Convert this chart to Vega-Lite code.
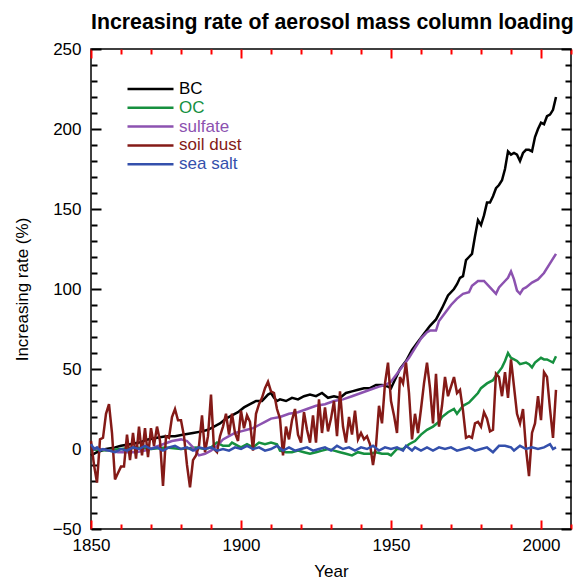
{
"$schema": "https://vega.github.io/schema/vega-lite/v6.json",
"width": 480, "height": 480,
"autosize": {"type": "none"},
"padding": {"left": 91, "top": 49, "right": 11, "bottom": 51},
"title": {"text": "Increasing rate of aerosol mass column loading", "anchor": "start", "frame": "group", "fontSize": 21.3, "fontWeight": "bold", "font": "Liberation Sans", "offset": 7, "color": "black"},
"config": {"view": {"stroke": "black", "strokeWidth": 1.5}, "font": "Liberation Sans"},
"data": {"values": [
{"series":"BC","year":1850,"value":-4},{"series":"BC","year":1852,"value":-2},{"series":"BC","year":1855,"value":0},{"series":"BC","year":1858,"value":1},{"series":"BC","year":1860,"value":2},{"series":"BC","year":1863,"value":3},{"series":"BC","year":1866,"value":4},{"series":"BC","year":1869,"value":6},{"series":"BC","year":1872,"value":7},{"series":"BC","year":1875,"value":8},{"series":"BC","year":1878,"value":8},{"series":"BC","year":1881,"value":9},{"series":"BC","year":1884,"value":10},{"series":"BC","year":1887,"value":11},{"series":"BC","year":1889,"value":12},{"series":"BC","year":1891,"value":14},{"series":"BC","year":1893,"value":16},{"series":"BC","year":1895,"value":19},{"series":"BC","year":1897,"value":21},{"series":"BC","year":1899,"value":23},{"series":"BC","year":1901,"value":26},{"series":"BC","year":1903,"value":28},{"series":"BC","year":1905,"value":30},{"series":"BC","year":1907,"value":30},{"series":"BC","year":1909,"value":34},{"series":"BC","year":1910,"value":35},{"series":"BC","year":1911,"value":32},{"series":"BC","year":1912,"value":30},{"series":"BC","year":1913,"value":31},{"series":"BC","year":1915,"value":30},{"series":"BC","year":1917,"value":32},{"series":"BC","year":1919,"value":31},{"series":"BC","year":1921,"value":33},{"series":"BC","year":1923,"value":34},{"series":"BC","year":1925,"value":33},{"series":"BC","year":1927,"value":35},{"series":"BC","year":1929,"value":32},{"series":"BC","year":1931,"value":33},{"series":"BC","year":1933,"value":32},{"series":"BC","year":1935,"value":35},{"series":"BC","year":1937,"value":36},{"series":"BC","year":1939,"value":37},{"series":"BC","year":1941,"value":38},{"series":"BC","year":1943,"value":38},{"series":"BC","year":1945,"value":40},{"series":"BC","year":1947,"value":40},{"series":"BC","year":1949,"value":39},{"series":"BC","year":1950,"value":38},{"series":"BC","year":1951,"value":42},{"series":"BC","year":1953,"value":50},{"series":"BC","year":1955,"value":55},{"series":"BC","year":1957,"value":62},{"series":"BC","year":1959,"value":67},{"series":"BC","year":1961,"value":72},{"series":"BC","year":1963,"value":77},{"series":"BC","year":1965,"value":81},{"series":"BC","year":1967,"value":88},{"series":"BC","year":1969,"value":96},{"series":"BC","year":1971,"value":100},{"series":"BC","year":1972,"value":103},{"series":"BC","year":1973,"value":107},{"series":"BC","year":1974,"value":108},{"series":"BC","year":1975,"value":118},{"series":"BC","year":1976,"value":120},{"series":"BC","year":1977,"value":122},{"series":"BC","year":1978,"value":133},{"series":"BC","year":1979,"value":143},{"series":"BC","year":1980,"value":140},{"series":"BC","year":1981,"value":146},{"series":"BC","year":1982,"value":154},{"series":"BC","year":1983,"value":154},{"series":"BC","year":1984,"value":158},{"series":"BC","year":1985,"value":163},{"series":"BC","year":1986,"value":165},{"series":"BC","year":1987,"value":168},{"series":"BC","year":1988,"value":175},{"series":"BC","year":1989,"value":186},{"series":"BC","year":1990,"value":184},{"series":"BC","year":1991,"value":185},{"series":"BC","year":1992,"value":184},{"series":"BC","year":1993,"value":180},{"series":"BC","year":1994,"value":185},{"series":"BC","year":1995,"value":187},{"series":"BC","year":1996,"value":187},{"series":"BC","year":1997,"value":186},{"series":"BC","year":1998,"value":195},{"series":"BC","year":1999,"value":200},{"series":"BC","year":2000,"value":204},{"series":"BC","year":2001,"value":203},{"series":"BC","year":2002,"value":208},{"series":"BC","year":2003,"value":209},{"series":"BC","year":2004,"value":212},{"series":"BC","year":2005,"value":220},
{"series":"OC","year":1850,"value":0},{"series":"OC","year":1855,"value":-1},{"series":"OC","year":1860,"value":0},{"series":"OC","year":1865,"value":1},{"series":"OC","year":1870,"value":0},{"series":"OC","year":1875,"value":1},{"series":"OC","year":1880,"value":0},{"series":"OC","year":1885,"value":1},{"series":"OC","year":1888,"value":0},{"series":"OC","year":1890,"value":1},{"series":"OC","year":1892,"value":4},{"series":"OC","year":1894,"value":2},{"series":"OC","year":1896,"value":2},{"series":"OC","year":1897,"value":4},{"series":"OC","year":1899,"value":2},{"series":"OC","year":1900,"value":1},{"series":"OC","year":1902,"value":3},{"series":"OC","year":1904,"value":1},{"series":"OC","year":1906,"value":4},{"series":"OC","year":1908,"value":3},{"series":"OC","year":1910,"value":4},{"series":"OC","year":1912,"value":3},{"series":"OC","year":1913,"value":-1},{"series":"OC","year":1915,"value":-2},{"series":"OC","year":1917,"value":-2},{"series":"OC","year":1919,"value":-1},{"series":"OC","year":1921,"value":-2},{"series":"OC","year":1923,"value":-3},{"series":"OC","year":1925,"value":-2},{"series":"OC","year":1927,"value":-1},{"series":"OC","year":1929,"value":0},{"series":"OC","year":1931,"value":-1},{"series":"OC","year":1933,"value":-2},{"series":"OC","year":1935,"value":-3},{"series":"OC","year":1937,"value":-4},{"series":"OC","year":1939,"value":-2},{"series":"OC","year":1941,"value":-3},{"series":"OC","year":1943,"value":-3},{"series":"OC","year":1945,"value":-2},{"series":"OC","year":1947,"value":-3},{"series":"OC","year":1949,"value":-3},{"series":"OC","year":1950,"value":-4},{"series":"OC","year":1952,"value":0},{"series":"OC","year":1954,"value":0},{"series":"OC","year":1956,"value":3},{"series":"OC","year":1958,"value":5},{"series":"OC","year":1960,"value":9},{"series":"OC","year":1962,"value":12},{"series":"OC","year":1964,"value":14},{"series":"OC","year":1966,"value":17},{"series":"OC","year":1967,"value":20},{"series":"OC","year":1969,"value":23},{"series":"OC","year":1971,"value":25},{"series":"OC","year":1972,"value":22},{"series":"OC","year":1974,"value":27},{"series":"OC","year":1976,"value":29},{"series":"OC","year":1977,"value":31},{"series":"OC","year":1979,"value":35},{"series":"OC","year":1980,"value":38},{"series":"OC","year":1982,"value":41},{"series":"OC","year":1984,"value":43},{"series":"OC","year":1985,"value":46},{"series":"OC","year":1987,"value":51},{"series":"OC","year":1988,"value":55},{"series":"OC","year":1989,"value":60},{"series":"OC","year":1990,"value":57},{"series":"OC","year":1991,"value":56},{"series":"OC","year":1992,"value":55},{"series":"OC","year":1993,"value":53},{"series":"OC","year":1995,"value":54},{"series":"OC","year":1996,"value":53},{"series":"OC","year":1997,"value":51},{"series":"OC","year":1998,"value":54},{"series":"OC","year":2000,"value":57},{"series":"OC","year":2001,"value":56},{"series":"OC","year":2002,"value":56},{"series":"OC","year":2003,"value":55},{"series":"OC","year":2004,"value":54},{"series":"OC","year":2005,"value":58},
{"series":"sulfate","year":1850,"value":1},{"series":"sulfate","year":1853,"value":0},{"series":"sulfate","year":1856,"value":-1},{"series":"sulfate","year":1859,"value":-2},{"series":"sulfate","year":1862,"value":-2},{"series":"sulfate","year":1865,"value":-2},{"series":"sulfate","year":1868,"value":-1},{"series":"sulfate","year":1871,"value":1},{"series":"sulfate","year":1874,"value":3},{"series":"sulfate","year":1877,"value":5},{"series":"sulfate","year":1880,"value":6},{"series":"sulfate","year":1882,"value":5},{"series":"sulfate","year":1884,"value":1},{"series":"sulfate","year":1886,"value":-4},{"series":"sulfate","year":1888,"value":-3},{"series":"sulfate","year":1890,"value":-1},{"series":"sulfate","year":1892,"value":2},{"series":"sulfate","year":1894,"value":6},{"series":"sulfate","year":1896,"value":8},{"series":"sulfate","year":1898,"value":10},{"series":"sulfate","year":1900,"value":11},{"series":"sulfate","year":1902,"value":12},{"series":"sulfate","year":1904,"value":13},{"series":"sulfate","year":1906,"value":15},{"series":"sulfate","year":1908,"value":17},{"series":"sulfate","year":1910,"value":19},{"series":"sulfate","year":1913,"value":20},{"series":"sulfate","year":1916,"value":22},{"series":"sulfate","year":1919,"value":23},{"series":"sulfate","year":1922,"value":25},{"series":"sulfate","year":1925,"value":27},{"series":"sulfate","year":1928,"value":28},{"series":"sulfate","year":1931,"value":30},{"series":"sulfate","year":1934,"value":31},{"series":"sulfate","year":1937,"value":33},{"series":"sulfate","year":1940,"value":35},{"series":"sulfate","year":1943,"value":37},{"series":"sulfate","year":1946,"value":39},{"series":"sulfate","year":1948,"value":40},{"series":"sulfate","year":1950,"value":42},{"series":"sulfate","year":1952,"value":47},{"series":"sulfate","year":1954,"value":52},{"series":"sulfate","year":1956,"value":57},{"series":"sulfate","year":1958,"value":63},{"series":"sulfate","year":1960,"value":69},{"series":"sulfate","year":1962,"value":73},{"series":"sulfate","year":1963,"value":74},{"series":"sulfate","year":1965,"value":74},{"series":"sulfate","year":1966,"value":80},{"series":"sulfate","year":1968,"value":85},{"series":"sulfate","year":1970,"value":90},{"series":"sulfate","year":1972,"value":94},{"series":"sulfate","year":1974,"value":97},{"series":"sulfate","year":1976,"value":98},{"series":"sulfate","year":1977,"value":102},{"series":"sulfate","year":1979,"value":105},{"series":"sulfate","year":1981,"value":105},{"series":"sulfate","year":1983,"value":101},{"series":"sulfate","year":1985,"value":97},{"series":"sulfate","year":1986,"value":101},{"series":"sulfate","year":1988,"value":105},{"series":"sulfate","year":1989,"value":107},{"series":"sulfate","year":1990,"value":111},{"series":"sulfate","year":1991,"value":106},{"series":"sulfate","year":1992,"value":99},{"series":"sulfate","year":1993,"value":97},{"series":"sulfate","year":1994,"value":100},{"series":"sulfate","year":1995,"value":101},{"series":"sulfate","year":1997,"value":104},{"series":"sulfate","year":1999,"value":106},{"series":"sulfate","year":2001,"value":110},{"series":"sulfate","year":2003,"value":116},{"series":"sulfate","year":2005,"value":122},
{"series":"soil dust","year":1850,"value":5},{"series":"soil dust","year":1851,"value":-10},{"series":"soil dust","year":1852,"value":-21},{"series":"soil dust","year":1853,"value":6},{"series":"soil dust","year":1854,"value":7},{"series":"soil dust","year":1855,"value":22},{"series":"soil dust","year":1856,"value":28},{"series":"soil dust","year":1857,"value":10},{"series":"soil dust","year":1858,"value":-19},{"series":"soil dust","year":1859,"value":-15},{"series":"soil dust","year":1860,"value":-11},{"series":"soil dust","year":1861,"value":-11},{"series":"soil dust","year":1862,"value":9},{"series":"soil dust","year":1863,"value":-7},{"series":"soil dust","year":1864,"value":10},{"series":"soil dust","year":1865,"value":-6},{"series":"soil dust","year":1866,"value":14},{"series":"soil dust","year":1867,"value":-4},{"series":"soil dust","year":1868,"value":13},{"series":"soil dust","year":1869,"value":-5},{"series":"soil dust","year":1870,"value":13},{"series":"soil dust","year":1871,"value":2},{"series":"soil dust","year":1872,"value":14},{"series":"soil dust","year":1873,"value":5},{"series":"soil dust","year":1874,"value":-23},{"series":"soil dust","year":1875,"value":8},{"series":"soil dust","year":1876,"value":7},{"series":"soil dust","year":1877,"value":20},{"series":"soil dust","year":1878,"value":25},{"series":"soil dust","year":1879,"value":18},{"series":"soil dust","year":1880,"value":18},{"series":"soil dust","year":1881,"value":8},{"series":"soil dust","year":1882,"value":-10},{"series":"soil dust","year":1883,"value":-24},{"series":"soil dust","year":1884,"value":-7},{"series":"soil dust","year":1885,"value":-4},{"series":"soil dust","year":1886,"value":2},{"series":"soil dust","year":1887,"value":21},{"series":"soil dust","year":1888,"value":-2},{"series":"soil dust","year":1889,"value":8},{"series":"soil dust","year":1890,"value":34},{"series":"soil dust","year":1891,"value":0},{"series":"soil dust","year":1892,"value":-2},{"series":"soil dust","year":1893,"value":8},{"series":"soil dust","year":1894,"value":14},{"series":"soil dust","year":1895,"value":22},{"series":"soil dust","year":1896,"value":9},{"series":"soil dust","year":1897,"value":22},{"series":"soil dust","year":1898,"value":10},{"series":"soil dust","year":1899,"value":5},{"series":"soil dust","year":1900,"value":24},{"series":"soil dust","year":1901,"value":13},{"series":"soil dust","year":1902,"value":21},{"series":"soil dust","year":1903,"value":17},{"series":"soil dust","year":1904,"value":-1},{"series":"soil dust","year":1905,"value":22},{"series":"soil dust","year":1906,"value":28},{"series":"soil dust","year":1907,"value":32},{"series":"soil dust","year":1908,"value":38},{"series":"soil dust","year":1909,"value":42},{"series":"soil dust","year":1910,"value":36},{"series":"soil dust","year":1911,"value":35},{"series":"soil dust","year":1912,"value":25},{"series":"soil dust","year":1913,"value":19},{"series":"soil dust","year":1914,"value":-4},{"series":"soil dust","year":1915,"value":14},{"series":"soil dust","year":1916,"value":6},{"series":"soil dust","year":1917,"value":18},{"series":"soil dust","year":1918,"value":25},{"series":"soil dust","year":1919,"value":9},{"series":"soil dust","year":1920,"value":4},{"series":"soil dust","year":1921,"value":23},{"series":"soil dust","year":1922,"value":12},{"series":"soil dust","year":1923,"value":4},{"series":"soil dust","year":1924,"value":21},{"series":"soil dust","year":1925,"value":4},{"series":"soil dust","year":1926,"value":31},{"series":"soil dust","year":1927,"value":10},{"series":"soil dust","year":1928,"value":26},{"series":"soil dust","year":1929,"value":11},{"series":"soil dust","year":1930,"value":19},{"series":"soil dust","year":1931,"value":30},{"series":"soil dust","year":1932,"value":8},{"series":"soil dust","year":1933,"value":36},{"series":"soil dust","year":1934,"value":14},{"series":"soil dust","year":1935,"value":4},{"series":"soil dust","year":1936,"value":20},{"series":"soil dust","year":1937,"value":9},{"series":"soil dust","year":1938,"value":24},{"series":"soil dust","year":1939,"value":6},{"series":"soil dust","year":1940,"value":10},{"series":"soil dust","year":1941,"value":6},{"series":"soil dust","year":1942,"value":8},{"series":"soil dust","year":1943,"value":3},{"series":"soil dust","year":1944,"value":-10},{"series":"soil dust","year":1945,"value":2},{"series":"soil dust","year":1946,"value":27},{"series":"soil dust","year":1947,"value":16},{"series":"soil dust","year":1948,"value":41},{"series":"soil dust","year":1949,"value":54},{"series":"soil dust","year":1950,"value":30},{"series":"soil dust","year":1951,"value":21},{"series":"soil dust","year":1952,"value":10},{"series":"soil dust","year":1953,"value":45},{"series":"soil dust","year":1954,"value":41},{"series":"soil dust","year":1955,"value":54},{"series":"soil dust","year":1956,"value":35},{"series":"soil dust","year":1957,"value":6},{"series":"soil dust","year":1958,"value":22},{"series":"soil dust","year":1959,"value":10},{"series":"soil dust","year":1960,"value":25},{"series":"soil dust","year":1961,"value":41},{"series":"soil dust","year":1962,"value":54},{"series":"soil dust","year":1963,"value":38},{"series":"soil dust","year":1964,"value":16},{"series":"soil dust","year":1965,"value":47},{"series":"soil dust","year":1966,"value":14},{"series":"soil dust","year":1967,"value":27},{"series":"soil dust","year":1968,"value":45},{"series":"soil dust","year":1969,"value":33},{"series":"soil dust","year":1970,"value":39},{"series":"soil dust","year":1971,"value":45},{"series":"soil dust","year":1972,"value":35},{"series":"soil dust","year":1973,"value":37},{"series":"soil dust","year":1974,"value":24},{"series":"soil dust","year":1975,"value":7},{"series":"soil dust","year":1976,"value":8},{"series":"soil dust","year":1977,"value":7},{"series":"soil dust","year":1978,"value":16},{"series":"soil dust","year":1979,"value":17},{"series":"soil dust","year":1980,"value":14},{"series":"soil dust","year":1981,"value":23},{"series":"soil dust","year":1982,"value":19},{"series":"soil dust","year":1983,"value":11},{"series":"soil dust","year":1984,"value":12},{"series":"soil dust","year":1985,"value":47},{"series":"soil dust","year":1986,"value":45},{"series":"soil dust","year":1987,"value":33},{"series":"soil dust","year":1988,"value":48},{"series":"soil dust","year":1989,"value":32},{"series":"soil dust","year":1990,"value":56},{"series":"soil dust","year":1991,"value":39},{"series":"soil dust","year":1992,"value":22},{"series":"soil dust","year":1993,"value":16},{"series":"soil dust","year":1994,"value":25},{"series":"soil dust","year":1995,"value":0},{"series":"soil dust","year":1996,"value":-17},{"series":"soil dust","year":1997,"value":10},{"series":"soil dust","year":1998,"value":16},{"series":"soil dust","year":1999,"value":33},{"series":"soil dust","year":2000,"value":18},{"series":"soil dust","year":2001,"value":48},{"series":"soil dust","year":2002,"value":45},{"series":"soil dust","year":2003,"value":25},{"series":"soil dust","year":2004,"value":7},{"series":"soil dust","year":2005,"value":37},
{"series":"sea salt","year":1850,"value":3},{"series":"sea salt","year":1851,"value":0},{"series":"sea salt","year":1852,"value":1},{"series":"sea salt","year":1853,"value":-1},{"series":"sea salt","year":1854,"value":0},{"series":"sea salt","year":1856,"value":-1},{"series":"sea salt","year":1858,"value":-2},{"series":"sea salt","year":1860,"value":0},{"series":"sea salt","year":1862,"value":-1},{"series":"sea salt","year":1864,"value":1},{"series":"sea salt","year":1866,"value":0},{"series":"sea salt","year":1868,"value":2},{"series":"sea salt","year":1870,"value":0},{"series":"sea salt","year":1872,"value":1},{"series":"sea salt","year":1874,"value":-1},{"series":"sea salt","year":1876,"value":1},{"series":"sea salt","year":1878,"value":2},{"series":"sea salt","year":1880,"value":0},{"series":"sea salt","year":1882,"value":1},{"series":"sea salt","year":1884,"value":-1},{"series":"sea salt","year":1886,"value":1},{"series":"sea salt","year":1888,"value":0},{"series":"sea salt","year":1890,"value":1},{"series":"sea salt","year":1892,"value":-1},{"series":"sea salt","year":1894,"value":0},{"series":"sea salt","year":1896,"value":-1},{"series":"sea salt","year":1898,"value":1},{"series":"sea salt","year":1900,"value":0},{"series":"sea salt","year":1902,"value":2},{"series":"sea salt","year":1904,"value":0},{"series":"sea salt","year":1906,"value":1},{"series":"sea salt","year":1908,"value":-1},{"series":"sea salt","year":1910,"value":0},{"series":"sea salt","year":1912,"value":2},{"series":"sea salt","year":1914,"value":-1},{"series":"sea salt","year":1916,"value":1},{"series":"sea salt","year":1918,"value":-1},{"series":"sea salt","year":1920,"value":0},{"series":"sea salt","year":1922,"value":1},{"series":"sea salt","year":1924,"value":-1},{"series":"sea salt","year":1926,"value":0},{"series":"sea salt","year":1928,"value":1},{"series":"sea salt","year":1930,"value":-1},{"series":"sea salt","year":1932,"value":2},{"series":"sea salt","year":1934,"value":0},{"series":"sea salt","year":1936,"value":1},{"series":"sea salt","year":1938,"value":-1},{"series":"sea salt","year":1940,"value":1},{"series":"sea salt","year":1942,"value":0},{"series":"sea salt","year":1944,"value":2},{"series":"sea salt","year":1946,"value":-1},{"series":"sea salt","year":1948,"value":1},{"series":"sea salt","year":1950,"value":0},{"series":"sea salt","year":1952,"value":1},{"series":"sea salt","year":1954,"value":-1},{"series":"sea salt","year":1955,"value":2},{"series":"sea salt","year":1957,"value":-1},{"series":"sea salt","year":1958,"value":1},{"series":"sea salt","year":1960,"value":-1},{"series":"sea salt","year":1962,"value":1},{"series":"sea salt","year":1964,"value":-1},{"series":"sea salt","year":1966,"value":1},{"series":"sea salt","year":1968,"value":0},{"series":"sea salt","year":1970,"value":1},{"series":"sea salt","year":1972,"value":-1},{"series":"sea salt","year":1974,"value":0},{"series":"sea salt","year":1976,"value":1},{"series":"sea salt","year":1978,"value":-1},{"series":"sea salt","year":1980,"value":0},{"series":"sea salt","year":1982,"value":1},{"series":"sea salt","year":1984,"value":-2},{"series":"sea salt","year":1986,"value":2},{"series":"sea salt","year":1988,"value":2},{"series":"sea salt","year":1990,"value":1},{"series":"sea salt","year":1991,"value":-1},{"series":"sea salt","year":1993,"value":2},{"series":"sea salt","year":1995,"value":0},{"series":"sea salt","year":1997,"value":1},{"series":"sea salt","year":1999,"value":0},{"series":"sea salt","year":2001,"value":1},{"series":"sea salt","year":2003,"value":3},{"series":"sea salt","year":2004,"value":0},{"series":"sea salt","year":2005,"value":1}
]},
"layer": [
{"mark": {"type": "line", "strokeWidth": 2.5},
 "encoding": {
  "x": {"field": "year", "type": "quantitative", "scale": {"domain": [1850, 2010], "nice": false, "zero": false},
   "axis": {"orient": "bottom", "values": [1850,1860,1870,1880,1890,1900,1910,1920,1930,1940,1950,1960,1970,1980,1990,2000,2010], "format": "d", "labelExpr": "datum.value % 50 === 0 ? datum.label : ''", "title": "Year", "titleFontSize": 17, "titleFontWeight": "normal", "titleColor": "black", "titlePadding": 6, "labelFontSize": 17, "labelColor": "black", "labelPadding": 17, "labelOverlap": false, "labelFlush": false, "tickSize": {"condition": {"test": "datum.value % 50 === 0", "value": -9}, "value": -5}, "tickColor": "red", "tickWidth": 2, "domain": false, "grid": false}},
  "y": {"field": "value", "type": "quantitative", "scale": {"domain": [-50, 250], "nice": false, "zero": false},
   "axis": {"orient": "left", "values": [-50,-40,-30,-20,-10,0,10,20,30,40,50,60,70,80,90,100,110,120,130,140,150,160,170,180,190,200,210,220,230,240,250], "format": "d", "labelExpr": "datum.value % 50 === 0 ? datum.label : ''", "title": "Increasing rate (%)", "titleFontSize": 17, "titleFontWeight": "normal", "titleColor": "black", "titlePadding": 21, "labelFontSize": 17, "labelColor": "black", "labelPadding": 20, "labelOverlap": false, "labelFlush": false, "tickSize": {"condition": {"test": "datum.value % 50 === 0", "value": -10}, "value": -6}, "tickColor": "black", "tickWidth": 2, "domain": false, "grid": false}},
  "color": {"field": "series", "type": "nominal",
   "scale": {"domain": ["BC", "OC", "sulfate", "soil dust", "sea salt"], "range": ["#000000", "#16903f", "#8c52b0", "#841a17", "#3450ac"]},
   "legend": {"orient": "none", "legendX": 35, "legendY": 32, "title": null, "padding": 0, "symbolType": "stroke", "symbolSize": 2116, "symbolStrokeWidth": 2.5, "clipHeight": 16, "rowPadding": 1.8, "labelFontSize": 17, "labelOffset": 4, "labelFont": "Liberation Sans",
    "encode": {"labels": {"update": {"fill": {"scale": "color", "field": "value"}}}}}}
 }},
{"mark": {"type": "line", "opacity": 0},
 "encoding": {
  "x": {"field": "year", "type": "quantitative",
   "axis": {"orient": "top", "values": [1850,1860,1870,1880,1890,1900,1910,1920,1930,1940,1950,1960,1970,1980,1990,2000,2010], "labels": false, "title": null, "tickSize": {"condition": {"test": "datum.value % 50 === 0", "value": -9}, "value": -5}, "tickColor": "red", "tickWidth": 2, "domain": false, "grid": false}},
  "y": {"field": "value", "type": "quantitative",
   "axis": {"orient": "right", "values": [-50,-40,-30,-20,-10,0,10,20,30,40,50,60,70,80,90,100,110,120,130,140,150,160,170,180,190,200,210,220,230,240,250], "labels": false, "title": null, "tickSize": {"condition": {"test": "datum.value % 50 === 0", "value": -10}, "value": -6}, "tickColor": "black", "tickWidth": 2, "domain": false, "grid": false}}
 }}
],
"resolve": {"axis": {"x": "independent", "y": "independent"}}
}
